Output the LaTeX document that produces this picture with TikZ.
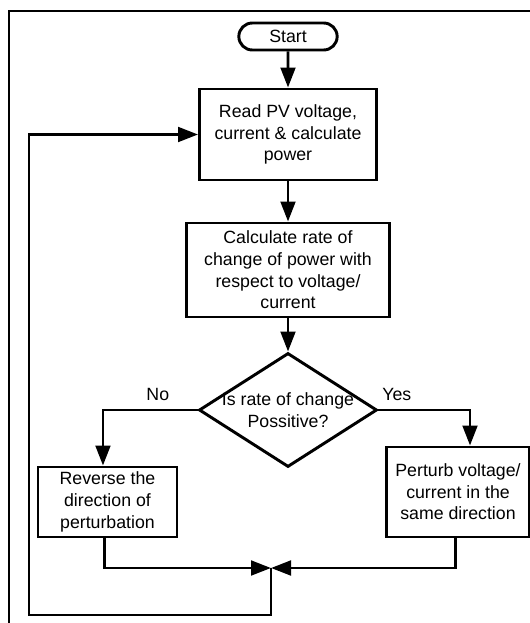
\documentclass[tikz,border=0pt]{standalone}
\usepackage{fontspec}
\setmainfont{Liberation Sans}
\usetikzlibrary{positioning,arrows.meta,shapes.geometric,shapes.misc}
\tikzset{
  flowarrow/.style={-{Triangle[length=15pt, width=11pt]}, line width=2.2pt},
  flowline/.style={line width=2.2pt},
  termbox/.style={draw, rounded rectangle, line width=2.2pt, minimum width=75.75pt, minimum height=20.25pt, inner sep=1pt},
  procbox/.style={draw, line width=2.2pt, align=center, inner sep=2pt},
  decbox/.style={draw, diamond, line width=2.2pt, minimum width=133.5pt, minimum height=85.5pt, inner sep=0pt},
  branchlabel/.style={above=6pt, inner sep=0pt, text depth=0pt}
}

\begin{document}
\begin{tikzpicture}[x=0.75pt, y=-0.75pt, >=Triangle,
    every node/.style={font=\fontsize{13.3pt}{16.2pt}\selectfont}]
  \useasboundingbox (0,0) rectangle (529,623);
  % outer frame, cut off at right and bottom
  \draw[flowline] (545,11) -- (9,11) -- (9,640);

  \node[termbox] (start) at (288,36.5) {Start};
  \node[procbox, minimum width=132.75pt, minimum height=68.25pt] (read) at (288,134.5)
    {Read PV voltage,\\current \& calculate\\power};
  \node[procbox, minimum width=152.25pt, minimum height=70.5pt] (calc) at (288,270)
    {Calculate rate of\\change of power with\\respect to voltage/\\current};
  \node[decbox, label={[align=center, name=dectext]center:Is rate of change\\Possitive?}] (dec) at (288,410) {};
  \node[procbox, minimum width=104.25pt, minimum height=52.5pt] (rev) at (107.5,502)
    {Reverse the\\direction of\\perturbation};
  \node[procbox, minimum width=107.25pt, minimum height=67.5pt] (per) at (458,492)
    {Perturb voltage/\\current in the\\same direction};

  \coordinate (join) at (271,568);
  \coordinate (loopcorner) at (29,615);

  \draw[flowarrow] (start) -- (read);
  \draw[flowarrow] (read) -- (calc);
  \draw[flowarrow] (calc) -- (dec);
  \draw[flowarrow] (dec.west) -| node[branchlabel, pos=0.21]{No} ([xshift=-3.4pt]rev.north);
  \draw[flowarrow] (dec.east) -| node[branchlabel, pos=0.1]{Yes} ([xshift=9pt]per.north);
  \draw[flowarrow] ([xshift=-2.2pt]rev.south) |- (join);
  \draw[flowarrow] ([xshift=-2.2pt]per.south) |- (join);
  % loop back to the measurement step
  \draw[flowarrow] (join) |- (loopcorner) |- (read.west);
\end{tikzpicture}
\end{document}
